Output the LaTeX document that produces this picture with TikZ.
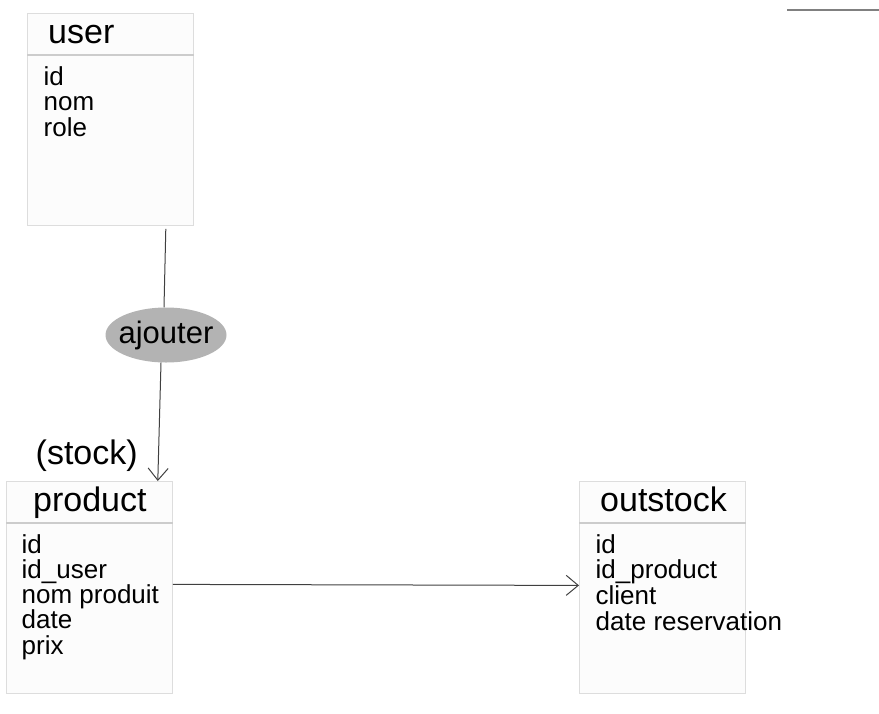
\documentclass[tikz,border=0pt]{standalone}
\usepackage{fontspec}
\setmainfont{Liberation Sans}
\usetikzlibrary{arrows.meta,shapes.geometric}
\definecolor{boxfill}{HTML}{FCFCFC}
\definecolor{boxline}{HTML}{DDDDDD}
\definecolor{sepline}{HTML}{CCCCCC}
\definecolor{ovalfill}{HTML}{B3B3B3}
\definecolor{linkcol}{HTML}{404040}
\tikzset{
  entity/.style={draw=boxline,fill=boxfill,line width=0.8pt,minimum width=166pt,minimum height=212pt,inner sep=0pt,anchor=north west},
  entsep/.style={draw=sepline,line width=1.5pt},
  title/.style={font=\fontsize{34}{34}\selectfont,inner sep=0pt,anchor=base west},
  field/.style={font=\fontsize{26}{26}\selectfont,inner sep=0pt,anchor=base west},
  assoc/.style={ellipse,fill=ovalfill,minimum width=121pt,minimum height=55pt,inner xsep=-5pt,inner ysep=0pt,font=\fontsize{31}{31}\selectfont},
  link/.style={draw=linkcol,line width=1pt},
  openarrow/.style={-{Straight Barb[length=12pt,width=20pt,line width=1pt]}}
}
\begin{document}
\begin{tikzpicture}[x=1pt,y=-1pt]
  \useasboundingbox (0,0) rectangle (879,713);
  % tables
  \node[entity] (user) at (27,13) {};
  \node[entity] (product) at (6,481) {};
  \node[entity] (outstock) at (579,481) {};
  \foreach \t in {user,product,outstock}
    \draw[entsep] ([yshift=-42pt]\t.north west) -- ([yshift=-42pt]\t.north east);
  \node[title] (user-title) at (48,43) {user};
  \node[title] (product-title) at (33,511) {product};
  \node[title] (outstock-title) at (600,511) {outstock};
  \foreach \f [count=\i] in {id,nom,role}
    \node[field] (user-f\i) at (43.5,{85+25.5*(\i-1)}) {\f};
  \foreach \f [count=\i] in {id,id\_user,nom produit,date,prix}
    \node[field] (product-f\i) at (21.5,{553+25.3*(\i-1)}) {\f};
  \foreach \f [count=\i] in {id,id\_product,client,date reservation}
    \node[field] (outstock-f\i) at (595.5,{553+25.8*(\i-1)}) {\f};
  % association
  \node[assoc] (ajouter) at (166,335) {ajouter};
  \node[title] (stock) at (35.5,464) {(stock)};
  % links
  \draw[link] ([xshift=-28pt,yshift=-3pt]user.south east) -- ([xshift=-2pt]ajouter.north);
  \draw[link,openarrow] ([xshift=-5pt]ajouter.south) -- ([xshift=-15pt]product.north east);
  \draw[link,openarrow] ([yshift=3pt]product.east) -- ([yshift=2pt]outstock.west);
  \draw[draw=gray,line width=1.2pt] (787,10) -- (879,10);
\end{tikzpicture}
\end{document}
